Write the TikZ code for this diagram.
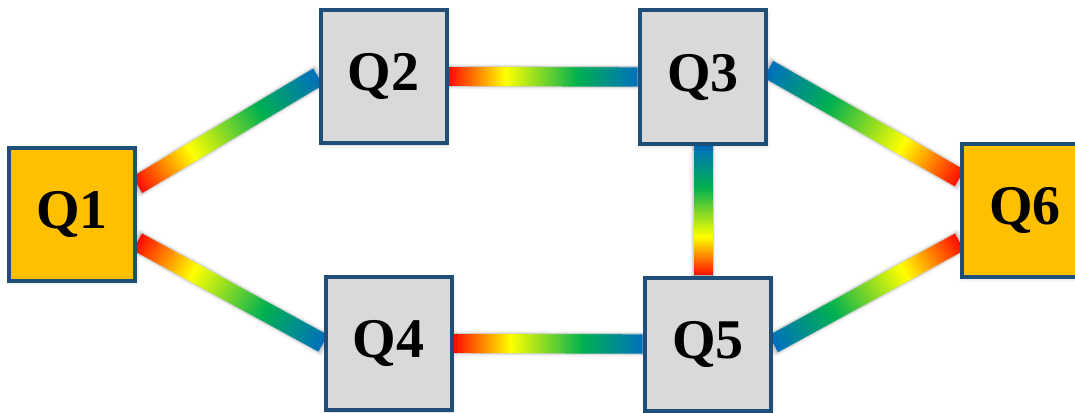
\documentclass[tikz,border=0pt]{standalone}
\usepackage{fontspec}
\setmainfont{Liberation Serif}
\usetikzlibrary{calc,backgrounds,shadows.blur}

\definecolor{boxedge}{RGB}{31,78,121}
\definecolor{boxgray}{RGB}{217,217,217}
\definecolor{boxgold}{RGB}{255,192,0}
\definecolor{lkred}{RGB}{255,10,0}
\definecolor{lkyellow}{RGB}{255,255,0}
\definecolor{lkgreen}{RGB}{0,176,80}
\definecolor{lkblue}{RGB}{0,112,192}
\definecolor{glow}{RGB}{150,180,225}

% red -> yellow -> green -> blue along a link (visible part is 25bp..75bp)
\pgfdeclarehorizontalshading{rainbow}{100bp}{color(0bp)=(lkred); color(25bp)=(lkred);
  color(40bp)=(lkyellow); color(59bp)=(lkgreen); color(75bp)=(lkblue); color(100bp)=(lkblue)}

\tikzset{
  qbox/.style={draw=boxedge, line width=4pt, minimum width=126pt, minimum height=133pt,
    inner sep=0pt, font=\fontsize{56}{60}\selectfont\bfseries,
    blur shadow={shadow xshift=1pt, shadow yshift=-2pt, shadow blur radius=4pt,
      shadow opacity=20, fill=glow}},
  hub/.style={qbox, fill=boxgold},
  relay/.style={qbox, fill=boxgray},
  linkbar/.style={shading=rainbow, draw=gray!35, line width=0.6pt,
    blur shadow={shadow xshift=0pt, shadow yshift=0pt, shadow blur radius=3pt,
      shadow scale=1.02, shadow opacity=25, fill=glow}}
}

% a shaded bar from #1 (red end) to #2 (blue end), drawn behind the boxes
\newcommand\rainbowlink[2]{%
  \path let \p1=(#1), \p2=(#2) in \pgfextra{%
    \pgfmathsetmacro\lkangle{atan2(\y2-\y1,\x2-\x1)}%
    \pgfmathsetmacro\lklength{veclen(\x2-\x1,\y2-\y1)}%
    \xdef\lkang{\lkangle}\xdef\lklen{\lklength}%
    \xdef\lkx{\x1}\xdef\lky{\y1}};
  \begin{scope}[on background layer]
    \begin{scope}[transform canvas={shift={(\lkx,\lky)}, rotate=\lkang}]
      \shade[linkbar] (0pt,-10pt) rectangle (\lklen pt,10pt);
    \end{scope}
  \end{scope}}

\begin{document}
\begin{tikzpicture}[x=1pt, y=-1pt]
  \useasboundingbox (0,0) rectangle (1075,412);

  \node[hub]   (Q1) at (72,214)    {Q1};
  \node[relay] (Q2) at (383.5,76.5) {Q2};
  \node[relay] (Q3) at (703,77)    {Q3};
  \node[relay] (Q4) at (388.5,343.5) {Q4};
  \node[relay] (Q5) at (708,344)   {Q5};
  \node[hub]   (Q6) at (1025,210)  {Q6};

  \rainbowlink{Q1.24}{Q2.west}
  \rainbowlink{Q1.-23}{Q4.west}
  \rainbowlink{Q2.east}{Q3.west}
  \rainbowlink{Q4.east}{Q5.west}
  \rainbowlink{Q3.south |- Q5.north}{Q3.south}
  \rainbowlink{Q6.154}{Q3.7}
  \rainbowlink{Q6.206}{Q5.east}
\end{tikzpicture}
\end{document}
